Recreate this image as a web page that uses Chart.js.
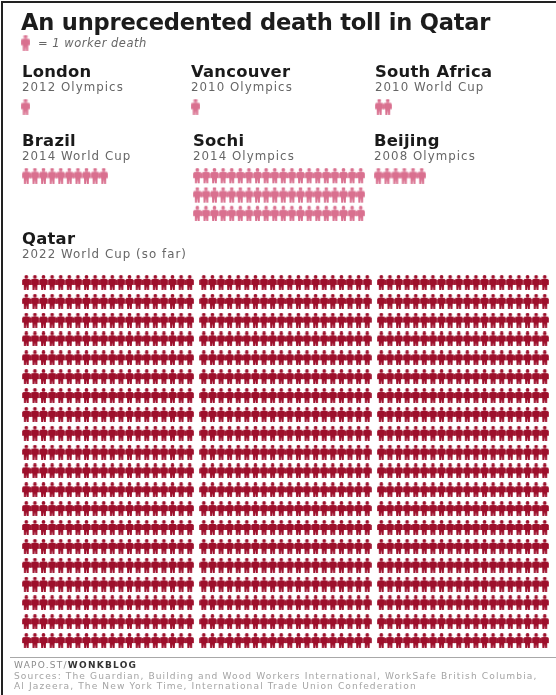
<!DOCTYPE html>
<html>
<head>
<meta charset="utf-8">
<title>An unprecedented death toll in Qatar</title>
<script src="https://cdn.jsdelivr.net/npm/chart.js@4"></script>
<style>
    html, body { margin: 0; padding: 0; background: #fff; }
    body { position: relative; width: 556px; height: 695px; overflow: hidden; font-family: "DejaVu Sans", sans-serif; }
    #frame { position: absolute; left: 1px; top: 1px; width: 560px; height: 700px; border: solid #222; border-width: 2px 0 0 2px; }
    .txt { position: absolute; white-space: nowrap; filter: blur(0.3px); }
    #title { left: 21px; top: 8px; font-size: 22.6px; line-height: 28px; font-weight: bold; color: #1c1c1c; letter-spacing: -.22px; }
    #key { left: 38px; top: 36px; font-size: 11.5px; line-height: 14px; font-style: italic; color: #666; letter-spacing: .5px; }
    .place { font-size: 16.4px; line-height: 18px; font-weight: bold; color: #1a1a1a; letter-spacing: .25px; }
    .event { font-size: 11.8px; line-height: 15px; color: #666; letter-spacing: 1.05px; }
    #rule { position: absolute; left: 10px; top: 657px; width: 546px; height: 1px; background: #a8a8a8; }
    #wapo { left: 14px; top: 659px; font-size: 9px; line-height: 12px; letter-spacing: 1.25px; color: #8a8a8a; }
    #wapo b { color: #333; }
    #sources { left: 14px; top: 672px; font-size: 9.1px; line-height: 9.5px; letter-spacing: 1.1px; color: #a4a4a4; }
    canvas { position: absolute; filter: blur(0.3px); }
</style>
</head>
<body>
<div id="frame"></div>
<div class="txt" id="title">An unprecedented death toll in Qatar</div>
<div class="txt" id="key">= 1 worker death</div>
<div id="rule"></div>
<div class="txt" id="wapo">WAPO.ST/<b>WONKBLOG</b></div>
<div class="txt" id="sources">Sources: The Guardian, Building and Wood Workers International, WorkSafe British Columbia,<br>Al Jazeera, The New York Time, International Trade Union Confederation</div>

<script>
    // Data
    var places = ["London", "Vancouver", "South Africa", "Brazil", "Sochi", "Beijing", "Qatar"];
    var events = ["2012 Olympics", "2010 Olympics", "2010 World Cup", "2014 World Cup", "2014 Olympics", "2008 Olympics", "2022 World Cup (so far)"];
    var deaths = [1, 1, 2, 10, 60, 6, 1200];
    var perRow = [1, 1, 2, 10, 20, 6, 60];
    var blockSize = [0, 0, 0, 0, 0, 0, 20]; // Qatar is split in blocks of 20 across

    // Where each panel sits on the page: text left, text top, icons left, icons top
    var layout = [
        [22, 63, 21, 97],
        [191, 63, 191, 97],
        [375, 63, 375, 97],
        [22, 132, 22, 166],
        [193, 132, 193, 166],
        [374, 132, 374, 166],
        [22, 230, 22, 273],
    ];

    var pitchX = 8.6;
    var pitchY = 18.85;
    var blockGap = 0.64;
    var pink = "#d9708f";
    var red = "#9d0f2b";

    // Little person used as the point style
    function person(color) {
        var c = document.createElement("canvas");
        c.width = 9;
        c.height = 15;
        var g = c.getContext("2d");
        g.fillStyle = color;
        g.beginPath();
        g.arc(4.5, 1.9, 1.9, 0, Math.PI * 2);
        g.fill();
        g.beginPath();
        g.moveTo(1.6, 4);
        g.lineTo(7.4, 4);
        g.lineTo(8.8, 5.2);
        g.lineTo(8.8, 10);
        g.lineTo(7, 10);
        g.lineTo(6.8, 15);
        g.lineTo(4.9, 15);
        g.lineTo(4.5, 11);
        g.lineTo(4.1, 15);
        g.lineTo(2.2, 15);
        g.lineTo(2, 10);
        g.lineTo(0.2, 10);
        g.lineTo(0.2, 5.2);
        g.closePath();
        g.fill();
        return c;
    }

    // One chart of people, from a count and a number per row
    function peopleChart(x, y, count, across, block, color) {
        var gaps = block ? Math.floor((across - 1) / block) : 0;
        var rows = Math.ceil(count / across);
        var points = [];
        for (var i = 0; i < count; i++) {
            var col = i % across;
            points.push({
                x: col + (block ? Math.floor(col / block) * blockGap : 0),
                y: Math.floor(i / across),
            });
        }
        var width = (across + gaps * blockGap) * pitchX;
        var canvas = document.createElement("canvas");
        canvas.style.left = x + "px";
        canvas.style.top = y + "px";
        canvas.style.width = width + "px";
        canvas.style.height = rows * pitchY + "px";
        canvas.width = width;
        canvas.height = rows * pitchY;
        document.body.appendChild(canvas);

        new Chart(canvas.getContext("2d"), {
            type: "scatter",
            data: {
                datasets: [{ data: points, pointStyle: person(color), clip: false }],
            },
            options: {
                responsive: false,
                animation: false,
                layout: { padding: 0, autoPadding: false },
                plugins: { legend: { display: false }, tooltip: { enabled: false } },
                scales: {
                    x: { type: "linear", display: false, min: -0.5, max: across + gaps * blockGap - 0.5 },
                    y: { type: "linear", display: false, min: -0.5, max: rows - 0.5, reverse: true },
                },
            },
        });
    }

    function addText(cls, text, x, y) {
        var el = document.createElement("div");
        el.className = "txt " + cls;
        el.textContent = text;
        el.style.left = x + "px";
        el.style.top = y + "px";
        document.body.appendChild(el);
    }

    // Key
    peopleChart(21, 33, 1, 1, 0, pink);

    // Panels
    places.forEach(function (place, i) {
        var pos = layout[i];
        addText("place", place, pos[0], pos[1]);
        addText("event", events[i], pos[0], pos[1] + 17);
        peopleChart(pos[2], pos[3], deaths[i], perRow[i], blockSize[i], i === 6 ? red : pink);
    });
</script>
</body>
</html>
